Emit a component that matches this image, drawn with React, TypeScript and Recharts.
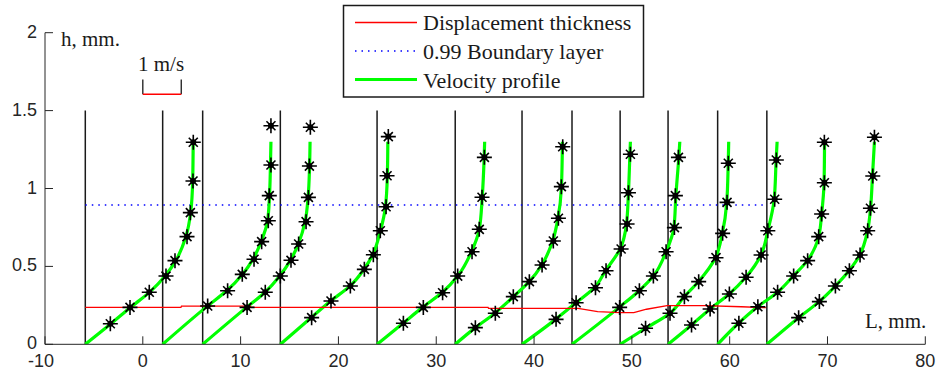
import React from "react";
import { ComposedChart, Line, Scatter, XAxis, YAxis } from "recharts";

// measuring stations, mm (black vertical lines)
const stations = [-5.88, 2.03, 6.12, 14.06, 23.95, 31.94, 38.77, 43.88, 48.8, 53.7, 58.77, 63.8];
const stationTop = 1.5;

const xTicks = [-10, 0, 10, 20, 30, 40, 50, 60, 70, 80];
const yTicks = [0, 0.5, 1, 1.5, 2];

// fitted velocity profiles (green), [L, h]
const green1 = [[-5.88, 0], [-3.3, 0.13], [-1.3, 0.235], [0.7, 0.335], [2.3, 0.44], [3.4, 0.54], [4.4, 0.69], [4.9, 0.85], [5.1, 1.05], [5.15, 1.3]];
const green2 = [[2.03, 0], [6.6, 0.245], [8.6, 0.345], [10.2, 0.45], [11.3, 0.55], [12.1, 0.66], [12.75, 0.79], [12.95, 0.95], [13.05, 1.15], [13.1, 1.3]];
const green3 = [[6.12, 0], [10.6, 0.237], [12.5, 0.334], [14.0, 0.438], [15.1, 0.54], [15.9, 0.645], [16.6, 0.79], [16.9, 0.945], [17.05, 1.145], [17.1, 1.3]];
const green4 = [[14.06, 0], [17.2, 0.17], [19.2, 0.278], [21.2, 0.375], [22.6, 0.48], [23.5, 0.575], [24.3, 0.73], [24.8, 0.88], [25.0, 1.08], [25.05, 1.3]];
const green5 = [[23.95, 0], [26.6, 0.135], [28.6, 0.237], [30.6, 0.332], [32.2, 0.438], [33.6, 0.594], [34.4, 0.738], [34.7, 0.944], [34.9, 1.2], [34.95, 1.3]];
const green6 = [[31.94, 0], [34.0, 0.107], [36.0, 0.2], [37.9, 0.306], [39.5, 0.402], [40.8, 0.51], [41.9, 0.663], [42.45, 0.81], [42.8, 1.01], [42.9, 1.3]];
const green7 = [[38.77, 0], [42.2, 0.16], [44.3, 0.267], [46.2, 0.365], [47.3, 0.472], [48.8, 0.612], [49.45, 0.772], [49.65, 0.973], [49.8, 1.22], [49.85, 1.3]];
const green8 = [[43.88, 0], [48.7, 0.237], [50.75, 0.344], [52.2, 0.438], [53.5, 0.594], [54.3, 0.75], [54.5, 0.955], [54.8, 1.2], [54.9, 1.3]];
const green9 = [[48.8, 0], [51.4, 0.103], [53.9, 0.2], [55.35, 0.306], [56.8, 0.402], [58.55, 0.556], [59.25, 0.712], [59.7, 0.91], [59.85, 1.16], [59.9, 1.3]];
const green10 = [[53.7, 0], [56.1, 0.124], [58.0, 0.227], [59.95, 0.323], [61.65, 0.43], [63.2, 0.573], [63.9, 0.729], [64.55, 0.93], [64.75, 1.18], [64.85, 1.3]];
const green11 = [[58.77, 0], [60.9, 0.135], [62.85, 0.241], [64.9, 0.334], [66.5, 0.438], [67.95, 0.537], [69.1, 0.691], [69.4, 0.836], [69.65, 1.037], [69.7, 1.3]];
const green12 = [[63.8, 0], [67.05, 0.171], [69.15, 0.274], [70.8, 0.374], [72.2, 0.472], [73.3, 0.573], [74.1, 0.729], [74.4, 0.873], [74.6, 1.08], [74.8, 1.3]];

// measured points (stars)
const stars1 = [[-3.32, 0.132], [-1.31, 0.237], [0.66, 0.334], [2.37, 0.438], [3.29, 0.537], [4.52, 0.691], [4.86, 0.845], [5.13, 1.048], [5.16, 1.297]];
const stars2 = [[6.63, 0.246], [8.67, 0.344], [10.17, 0.449], [11.37, 0.546], [12.15, 0.659], [12.83, 0.793], [12.93, 0.954], [13.1, 1.151], [13.1, 1.403]];
const stars3 = [[10.66, 0.237], [12.52, 0.334], [14.06, 0.438], [15.15, 0.539], [15.93, 0.644], [16.69, 0.787], [16.93, 0.943], [17.03, 1.144], [17.13, 1.393]];
const stars4 = [[17.26, 0.171], [19.24, 0.278], [21.22, 0.374], [22.65, 0.481], [23.57, 0.575], [24.28, 0.729], [24.87, 0.883], [24.97, 1.082], [25.1, 1.333]];
const stars5 = [[26.64, 0.135], [28.68, 0.237], [30.65, 0.331], [32.19, 0.438], [33.66, 0.594], [34.4, 0.738], [34.68, 0.944], [34.92, 1.2]];
const stars6 = [[34.0, 0.107], [36.04, 0.199], [37.88, 0.306], [39.52, 0.402], [40.82, 0.509], [41.97, 0.663], [42.49, 0.809], [42.79, 1.012], [42.93, 1.268]];
const stars7 = [[42.25, 0.16], [44.3, 0.267], [46.28, 0.363], [47.36, 0.472], [48.9, 0.612], [49.51, 0.772], [49.65, 0.973], [49.85, 1.22]];
const stars8 = [[48.75, 0.237], [50.77, 0.344], [52.2, 0.438], [53.5, 0.594], [54.35, 0.749], [54.45, 0.954], [54.76, 1.2]];
const stars9 = [[51.4, 0.103], [53.9, 0.199], [55.37, 0.306], [56.83, 0.402], [58.6, 0.556], [59.28, 0.712], [59.73, 0.911], [59.86, 1.162]];
const stars10 = [[56.1, 0.124], [58.0, 0.227], [59.97, 0.323], [61.68, 0.43], [63.21, 0.573], [63.9, 0.729], [64.6, 0.931], [64.77, 1.183]];
const stars11 = [[60.94, 0.135], [62.88, 0.241], [64.9, 0.334], [66.54, 0.438], [67.97, 0.537], [69.1, 0.691], [69.4, 0.836], [69.68, 1.037], [69.68, 1.297]];
const stars12 = [[67.05, 0.171], [69.17, 0.274], [70.81, 0.374], [72.24, 0.472], [73.33, 0.573], [74.11, 0.729], [74.39, 0.873], [74.63, 1.08], [74.8, 1.329]];

const displacement = [[-5.88, 0.237], [3.9, 0.237], [3.95, 0.245], [11, 0.245], [11.05, 0.237], [35.3, 0.237], [35.35, 0.23], [44.5, 0.23], [46.5, 0.21], [48.8, 0.203], [50.2, 0.203], [51.5, 0.225], [53.6, 0.248], [57.4, 0.248], [61.2, 0.241], [63.7, 0.235]];
const boundaryLayer = [[-5.88, 0.894], [63.8, 0.894]];

// "1 m/s" scale bar
const scaleBar = [[0, 1.605], [3.93, 1.605]];
const scaleBarLeft = [[0, 1.605], [0, 1.7]];
const scaleBarRight = [[3.93, 1.605], [3.93, 1.7]];

const greens = [green1, green2, green3, green4, green5, green6, green7, green8, green9, green10, green11, green12];
const allStars = [stars1, stars2, stars3, stars4, stars5, stars6, stars7, stars8, stars9, stars10, stars11, stars12];

const pts = (arr: number[][]) => arr.map(([x, y]) => ({ x, y }));

const SANS = "'Liberation Sans', Arial, sans-serif";
const SERIF = "'Liberation Serif', 'Times New Roman', serif";
const AXIS = "#262626";

const XTick = (props: any) => {
  const { x, y, payload } = props;
  // the reference nudges "-10" a little left of its tick
  const dx = payload.value === -10 ? -4 : 0;
  return (
    <g>
      <line x1={x} y1={y} x2={x} y2={y - 8} stroke={AXIS} strokeWidth={1} />
      <text x={x + dx} y={y + 23} textAnchor="middle" fontFamily={SANS} fontSize={18} fill={AXIS}>
        {payload.value}
      </text>
    </g>
  );
};

const YTick = (props: any) => {
  const { x, y, payload } = props;
  return (
    <g>
      <line x1={x} y1={y} x2={x + 8} y2={y} stroke={AXIS} strokeWidth={1} />
      <text x={x - 8} y={y - 1} textAnchor="end" dominantBaseline="central" fontFamily={SANS} fontSize={18} fill={AXIS}>
        {payload.value}
      </text>
    </g>
  );
};

const Star = (props: any) => {
  const { cx, cy } = props;
  if (cx == null || cy == null) return null;
  return (
    <g stroke="#000" strokeWidth={1.6}>
      <line x1={cx - 7.5} y1={cy} x2={cx + 7.5} y2={cy} />
      <line x1={cx} y1={cy - 7.5} x2={cx} y2={cy + 7.5} />
      <line x1={cx - 4.5} y1={cy - 4.5} x2={cx + 4.5} y2={cy + 4.5} />
      <line x1={cx - 4.5} y1={cy + 4.5} x2={cx + 4.5} y2={cy - 4.5} />
      <circle cx={cx} cy={cy} r={3} fill="#000" stroke="none" />
    </g>
  );
};

export default function App() {
  const W = 937;
  const H = 377;
  const starData = allStars.flatMap((s) => pts(s));

  return (
    <div style={{ position: "relative", width: W, height: H, background: "#fff" }}>
      <style>{`html, body { margin: 0; padding: 0; overflow: hidden; }`}</style>
      <ComposedChart width={W} height={H} margin={{ top: 32.7, right: 11.7, bottom: 2.7, left: 5 }}>
        <XAxis
          type="number"
          dataKey="x"
          domain={[-10, 80]}
          ticks={xTicks}
          allowDataOverflow
          height={30}
          tickSize={0}
          tickMargin={0}
          tick={<XTick />}
          axisLine={{ stroke: AXIS, strokeWidth: 1 }}
          tickLine={false}
        />
        <YAxis
          type="number"
          dataKey="y"
          domain={[0, 2]}
          ticks={yTicks}
          allowDataOverflow
          width={40}
          tickSize={0}
          tickMargin={0}
          tick={<YTick />}
          axisLine={{ stroke: AXIS, strokeWidth: 1 }}
          tickLine={false}
        />
        {stations.map((s, i) => (
          <Line
            key={"st" + i}
            data={[{ x: s, y: 0 }, { x: s, y: stationTop }]}
            dataKey="y"
            stroke="#1a1a1a"
            strokeWidth={1.5}
            dot={false}
            activeDot={false}
            isAnimationActive={false}
          />
        ))}
        <Line data={pts(scaleBarLeft)} dataKey="y" stroke="#1a1a1a" strokeWidth={1.3} dot={false} activeDot={false} isAnimationActive={false} />
        <Line data={pts(scaleBarRight)} dataKey="y" stroke="#1a1a1a" strokeWidth={1.3} dot={false} activeDot={false} isAnimationActive={false} />
        <Line data={pts(scaleBar)} dataKey="y" stroke="#ff0000" strokeWidth={1.3} dot={false} activeDot={false} isAnimationActive={false} />
        <Line data={pts(boundaryLayer)} dataKey="y" stroke="#0000ff" strokeWidth={1.5} strokeDasharray="1.5 5" dot={false} activeDot={false} isAnimationActive={false} />
        {greens.map((g, i) => (
          <Line
            key={"g" + i}
            data={pts(g)}
            dataKey="y"
            type="monotoneY"
            stroke="#00ff00"
            strokeWidth={3.2}
            dot={false}
            activeDot={false}
            isAnimationActive={false}
          />
        ))}
        <Line data={pts(displacement)} dataKey="y" stroke="#ff0000" strokeWidth={1.3} dot={false} activeDot={false} isAnimationActive={false} />
        <Scatter data={starData} dataKey="y" shape={<Star />} isAnimationActive={false} />
      </ComposedChart>

      <svg width={W} height={H} style={{ position: "absolute", left: 0, top: 0, pointerEvents: "none" }}>
        <text x={61} y={46} fontFamily={SERIF} fontSize={21} fill="#1a1a1a">h, mm.</text>
        <text x={138} y={71} fontFamily={SERIF} fontSize={21} fill="#1a1a1a">1 m/s</text>
        <text x={865} y={328} fontFamily={SERIF} fontSize={21} fill="#1a1a1a">L, mm.</text>

        <rect x={343.5} y={5.5} width={300} height={91.5} fill="#fff" stroke="#1a1a1a" strokeWidth={1.5} />
        <line x1={355} y1={22.5} x2={417} y2={22.5} stroke="#ff0000" strokeWidth={1.3} />
        <line x1={355} y1={51} x2={417} y2={51} stroke="#0000ff" strokeWidth={1.5} strokeDasharray="1.5 5" />
        <line x1={355} y1={79.5} x2={417} y2={79.5} stroke="#00ff00" strokeWidth={3} />
        <text x={423} y={30} fontFamily={SERIF} fontSize={22} fill="#1a1a1a">Displacement thickness</text>
        <text x={423} y={59} fontFamily={SERIF} fontSize={22} fill="#1a1a1a">0.99 Boundary layer</text>
        <text x={423} y={88} fontFamily={SERIF} fontSize={22} fill="#1a1a1a">Velocity profile</text>
      </svg>
    </div>
  );
}
